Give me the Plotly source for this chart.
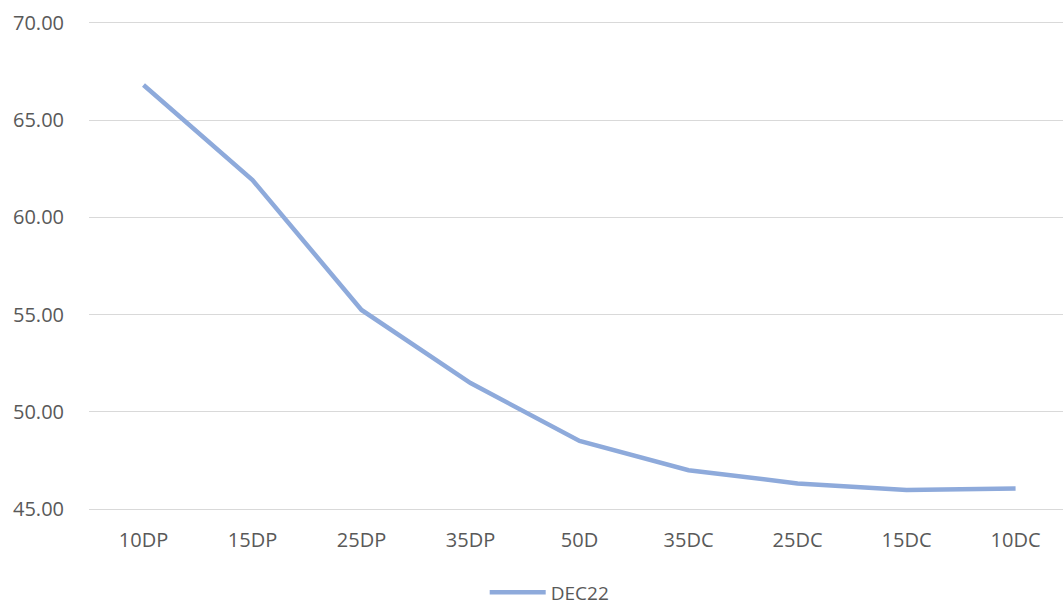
import plotly.graph_objects as go

categories = ["10DP", "15DP", "25DP", "35DP", "50D", "35DC", "25DC", "15DC", "10DC"]
dec22 = [66.81, 61.92, 55.24, 51.48, 48.50, 47.00, 46.32, 45.98, 46.06]
y_ticks = [45, 50, 55, 60, 65, 70]
y_tick_labels = ["45.00", "50.00", "55.00", "60.00", "65.00", "70.00"]

fig = go.Figure()
fig.add_trace(go.Scatter(
    x=categories, y=dec22, mode="lines", name="DEC22",
    line=dict(color="#8eaadb", width=4.5),
))

fig.update_layout(
    width=1063, height=608,
    margin=dict(l=89, r=0, t=21, b=97, autoexpand=False),
    paper_bgcolor="white", plot_bgcolor="white",
    font=dict(family="Open Sans", size=20, color="#595959"),
    showlegend=True,
    legend=dict(orientation="h", x=0.473, xanchor="center", y=-0.166, yanchor="middle",
                itemwidth=56, font=dict(size=19, color="#595959")),
    xaxis=dict(type="category", range=[-0.5, 8.435], showgrid=False, showline=False,
               ticks="", ticklabelstandoff=15, tickfont=dict(size=20, color="#595959")),
    yaxis=dict(range=[44.9, 70.1], tickvals=y_ticks, ticktext=y_tick_labels,
               showgrid=True, gridcolor="#d9d9d9", gridwidth=1, zeroline=False,
               showline=False, ticks="", ticklabelstandoff=24,
               tickfont=dict(size=20, color="#595959")),
)

fig.write_html(
    "out.html",
    config={"displayModeBar": False},
    post_script="document.body.style.margin='0';document.body.style.overflow='hidden';",
)
